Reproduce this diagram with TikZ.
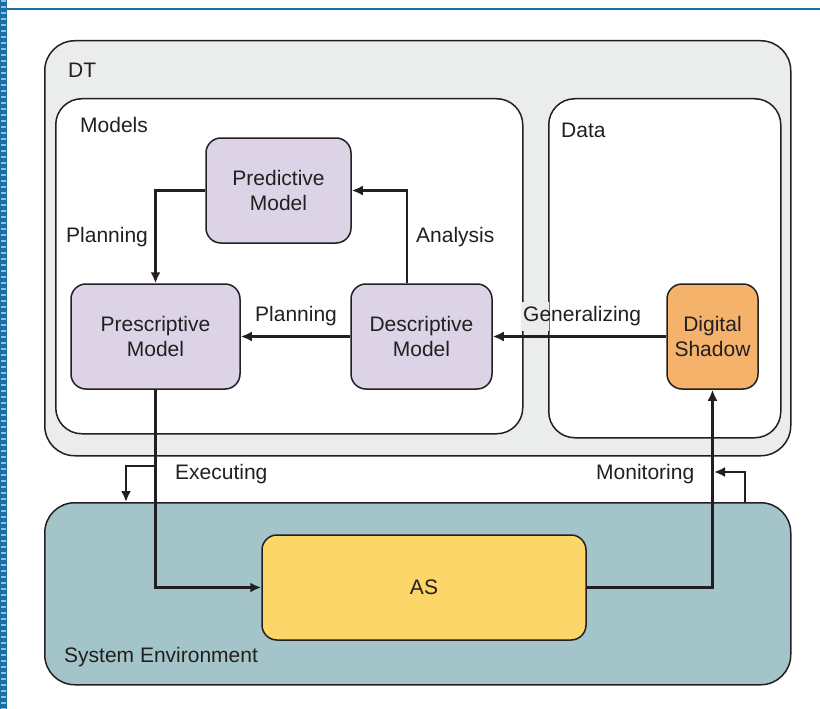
\documentclass[tikz,border=0pt]{standalone}
\usepackage{fontspec}
\setmainfont{Liberation Sans}
\usetikzlibrary{arrows.meta}
\usetikzlibrary{calc}

\definecolor{dtgray}{HTML}{EBECEC}
\definecolor{envteal}{HTML}{A3C5C9}
\definecolor{modlav}{HTML}{DCD3E7}
\definecolor{shadoworange}{HTML}{F5B26B}
\definecolor{asyellow}{HTML}{FCD668}
\definecolor{edgeblue}{HTML}{1A6EA6}
\definecolor{linedark}{HTML}{231F20}

\begin{document}
\begin{tikzpicture}
[x=1pt, y=-1pt,
 every node/.style={inner sep=0pt, font=\fontsize{21}{25}\selectfont, text=linedark},
 region/.style={draw=linedark, line width=1.5pt, rounded corners=30pt, anchor=north west},
 inner/.style={draw=linedark, line width=1.5pt, fill=white, rounded corners=26pt, anchor=north west},
 modelbox/.style={draw=linedark, line width=1.5pt, rounded corners=15pt, align=center, fill=modlav},
 flow/.style={line width=2.5pt, color=linedark, -{Latex[length=11pt, width=10pt]}},
 label/.style={anchor=west}]
\useasboundingbox (0,0) rectangle (820,709);
\fill [white] (0,0) rectangle (820,709);
% page edge
\fill [edgeblue] (0,0) rectangle (7,709);
\draw [edgeblue!45, line width=5pt, dash pattern=on 2pt off 4pt] (3.5,0) -- (3.5,709);
\draw [edgeblue, line width=2pt] (7,9) -- (820,9);
% containers
\node (dt) [region, fill=dtgray, minimum width=746pt, minimum height=415pt] at (44, 40) {};
\node (models) [inner, minimum width=467pt, minimum height=335pt] at (55, 98) {};
\node (data) [inner, minimum width=232pt, minimum height=339pt] at (548, 98) {};
\node (env) [region, fill=envteal, minimum width=746pt, minimum height=182pt] at (44, 502) {};
% gap behind the Generalizing text
\fill [dtgray] (520.5, 302) rectangle (549, 331);
% boxes
\node (pred) [modelbox, minimum width=145pt, minimum height=105pt] at (278.5, 190.5) {Predictive\\Model};
\node (presc) [modelbox, minimum width=169pt, minimum height=105pt] at (155.5, 336.5) {Prescriptive\\Model};
\node (desc) [modelbox, minimum width=141pt, minimum height=105pt] at (421.5, 336.5) {Descriptive\\Model};
\node (shadow) [modelbox, fill=shadoworange, minimum width=91pt, minimum height=105pt] at (712.5, 336.5) {Digital\\Shadow};
\node (as) [modelbox, fill=asyellow, minimum width=324pt, minimum height=105pt] at (424, 587.5) {AS};
% texts
\node (dtlabel) [label] at (68, 70) {DT};
\node (modelslabel) [label] at (80, 125) {Models};
\node (datalabel) [label] at (561, 130) {Data};
\node (plan1) [label] at (66, 237) {Planning};
\node (analysis) [label] at (416, 237) {Analysis};
\node (plan2) [label] at (255, 316) {Planning};
\node (general) [label] at (523, 316) {Generalizing};
\node (exec) [label] at (175, 474) {Executing};
\node (monit) [label] at (596, 474) {Monitoring};
\node (envlabel) [label] at (64, 657) {System Environment};
% arrows
\draw [flow] (pred.west) -| (presc.north);
\draw [flow] ([xshift=-14.5pt]desc.north) |- (pred.east);
\draw [flow] (desc.west) -- (presc.east);
\draw [flow] (shadow.west) -- (desc.east);
\draw [flow] (presc.south) |- (as.west);
\draw [flow] (as.east) -| (shadow.south);
\coordinate (execstart) at (156, 466);
\coordinate (execend) at (126, 502);
\coordinate (monitstart) at (745, 502);
\coordinate (monitend) at (714, 472);
\draw [flow] (execstart) -| (execend);
\draw [flow] (monitstart) |- (monitend);
\end{tikzpicture}
\end{document}
